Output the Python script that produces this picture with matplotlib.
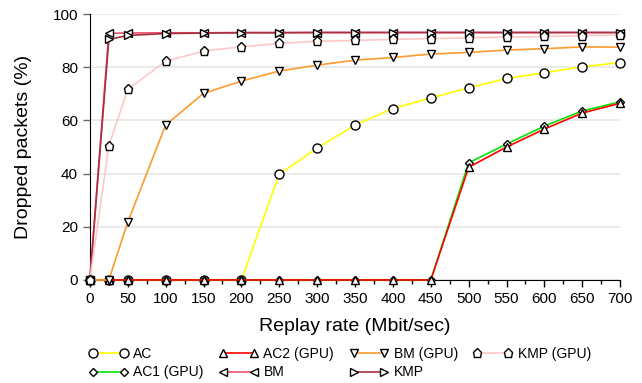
import matplotlib.pyplot as plt
from matplotlib.ticker import MultipleLocator

plt.rcParams['font.family'] = ['Liberation Sans', 'DejaVu Sans']

rate = [0, 25, 50, 100, 150, 200, 250, 300, 350, 400, 450, 500, 550, 600, 650, 700]

ac = [0, 0, 0, 0, 0, 0, 39.8, 49.6, 58.3, 64.5, 68.5, 72.3, 75.8, 78.0, 80.2, 81.8]
ac1_gpu = [0, 0, 0, 0, 0, 0, 0, 0, 0, 0, 0, 44.1, 51.1, 57.9, 63.6, 67.0]
ac2_gpu = [0, 0, 0, 0, 0, 0, 0, 0, 0, 0, 0, 42.4, 50.0, 56.8, 62.8, 66.5]
bm = [0, 92.8, 92.9, 93.0, 93.0, 93.1, 93.1, 93.1, 93.1, 93.1, 93.1, 93.1, 93.1, 93.1, 93.1, 93.1]
bm_gpu = [0, 0, 21.8, 58.3, 70.2, 74.8, 78.6, 80.8, 82.7, 83.7, 85.0, 85.6, 86.5, 87.0, 87.7, 87.6]
kmp = [0, 90.5, 92.0, 92.7, 92.9, 93.0, 93.0, 93.1, 93.1, 93.1, 93.1, 93.1, 93.1, 93.1, 93.1, 93.1]
kmp_gpu = [0, 50.4, 71.7, 82.3, 86.1, 87.7, 89.0, 89.8, 90.1, 90.5, 90.8, 91.1, 91.4, 91.6, 91.9, 92.1]

fig = plt.figure(figsize=(6.42, 3.83), dpi=100)
ax = fig.add_axes([0.140, 0.269, 0.826, 0.694])

mk = dict(markerfacecolor='white', markeredgecolor='black', markeredgewidth=1.0,
          linewidth=1.2, clip_on=False, zorder=3)
ax.plot(rate, ac, color='#ffff00', marker='o', markersize=6.5, label='AC', **mk)
ax.plot(rate, ac1_gpu, color='#00e600', marker='D', markersize=4.5, label='AC1 (GPU)', **mk)
ax.plot(rate, ac2_gpu, color='#ff0000', marker='^', markersize=6, label='AC2 (GPU)', **mk)
ax.plot(rate, bm, color='#e8506e', marker='<', markersize=6, label='BM', **mk)
ax.plot(rate, bm_gpu, color='#ff9a2e', marker='v', markersize=6, label='BM (GPU)', **mk)
ax.plot(rate, kmp, color='#a83040', marker='>', markersize=6, label='KMP', **mk)
ax.plot(rate, kmp_gpu, color='#ffc8c8', marker='p', markersize=6.5, label='KMP (GPU)', **mk)

ax.set_xlim(0, 700)
ax.set_ylim(0, 100)
ax.xaxis.set_major_locator(MultipleLocator(50))
ax.xaxis.set_minor_locator(MultipleLocator(25))
ax.yaxis.set_major_locator(MultipleLocator(20))
ax.grid(axis='y', color='#e6e6e6', linewidth=1.2)
ax.set_axisbelow(True)
for s in ['top', 'right']:
    ax.spines[s].set_visible(False)
ax.tick_params(axis='x', which='major', length=5, width=1, labelsize=11, colors='black')
ax.tick_params(axis='x', which='minor', length=3, width=1)
ax.tick_params(axis='y', length=5, width=1, color='#666666', labelsize=11)
ax.set_xlabel('Replay rate (Mbit/sec)', fontsize=14, labelpad=9)
ax.set_ylabel('Dropped packets (%)', fontsize=14, labelpad=15)

fig.legend(*ax.get_legend_handles_labels(), loc='upper left', bbox_to_anchor=(0.119, 0.126),
           ncol=4, frameon=False, numpoints=2, fontsize=10, handlelength=2.8,
           columnspacing=1.1, handletextpad=0.4, labelspacing=0.3)

fig.savefig('out.png', dpi=100)
